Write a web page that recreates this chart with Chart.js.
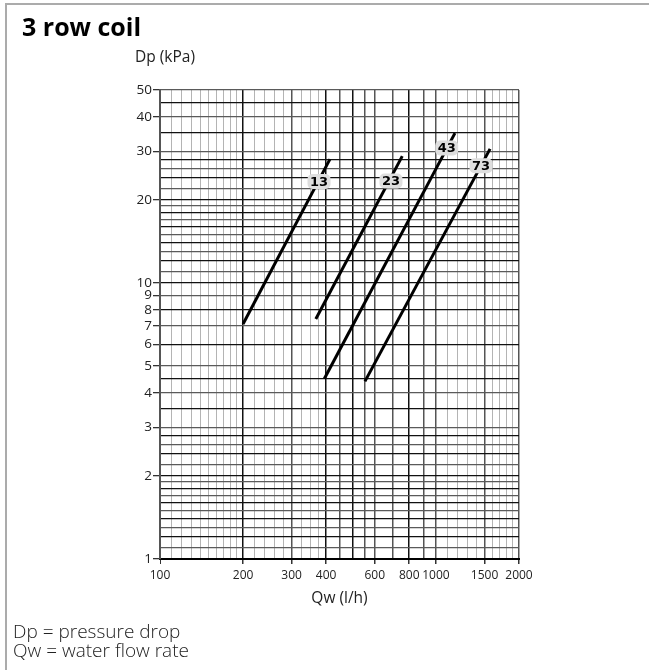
<!DOCTYPE html>
<html>
<head>
<meta charset="utf-8">
<script src="https://cdn.jsdelivr.net/npm/chart.js@4/dist/chart.umd.min.js"></script>
<style>
  body { margin: 0; background: #fff; }
  #wrap { position: relative; width: 649px; height: 670px; overflow: hidden; font-family: "Open Sans", sans-serif; }
  #wrap canvas { position: absolute; left: 0; top: 0; }
  .frameTop { position: absolute; left: 5px; top: 3px; width: 644px; height: 2px; background: #ababab; }
  .frameLeft { position: absolute; left: 5px; top: 3px; width: 2px; height: 667px; background: #ababab; }
  .title { position: absolute; left: 22px; top: 9px; font-size: 25px; font-weight: 700; color: #000; white-space: nowrap; }
  .ytitle { position: absolute; left: 135px; top: 45px; font-size: 15.5px; color: #222; white-space: nowrap; }
  .note { position: absolute; left: 13px; font-size: 19px; font-weight: 300; color: #222; white-space: nowrap; }
</style>
</head>
<body>
<div id="wrap">
  <canvas id="chart" width="649" height="670"></canvas>
  <div class="frameTop"></div>
  <div class="frameLeft"></div>
  <div class="title">3 row coil</div>
  <div class="ytitle">Dp (kPa)</div>
  <div class="note" style="top:618px">Dp = pressure drop</div>
  <div class="note" style="top:637px">Qw = water flow rate</div>
</div>
<script>
'use strict';

// curve names
var coilNames = ['13', '23', '43', '73'];

// water flow (l/h) and pressure drop (kPa) at the two ends of each curve
var qw13 = [200, 413],  dp13 = [7.1, 28.1];
var qw23 = [367, 755],  dp23 = [7.4, 28.8];
var qw43 = [394, 1172], dp43 = [4.5, 34.9];
var qw73 = [553, 1571], dp73 = [4.4, 30.6];

// where the curve names sit
var labelQw = [377, 687, 1094, 1457];
var labelDp = [23.3, 23.4, 30.8, 26.6];

// grid lines and tick labels
var qwGrid = [100, 110, 120, 130, 140, 150, 160, 170, 180, 190, 200, 220, 240, 260, 280,
              300, 325, 350, 375, 400, 450, 500, 550, 600, 700, 800, 900, 1000,
              1100, 1200, 1300, 1400, 1500, 1600, 1700, 1800, 1900, 2000];
var qwLabels = [100, 200, 300, 400, 600, 800, 1000, 1500, 2000];
var qwDark = [200, 400, 500, 800];
var qwMid = [300, 450, 550, 600, 700, 900, 1000, 1500, 2000];

var dpGrid = [1, 1.1, 1.2, 1.3, 1.4, 1.5, 1.6, 1.7, 1.8, 1.9, 2, 2.2, 2.4, 2.6, 2.8,
              3, 3.5, 4, 4.5, 5, 6, 7, 8, 9, 10, 11, 12, 13, 14, 15, 16, 17, 18, 19,
              20, 22, 24, 26, 28, 30, 35, 40, 45, 50];
var dpLabels = [1, 2, 3, 4, 5, 6, 7, 8, 9, 10, 20, 30, 40, 50];

function toPoints(xs, ys) {
    return xs.map(function (x, i) { return { x: x, y: ys[i] }; });
}

var curves = [toPoints(qw13, dp13), toPoints(qw23, dp23), toPoints(qw43, dp43), toPoints(qw73, dp73)];

var datasets = curves.map(function (pts, i) {
    return {
        label: coilNames[i],
        data: pts,
        borderColor: '#000',
        borderWidth: 3,
        pointRadius: 0,
        borderCapStyle: 'butt'
    };
});

// little grey badges with the curve names
var curveLabels = {
    id: 'curveLabels',
    afterDatasetsDraw: function (chart) {
        var ctx = chart.ctx;
        var xs = chart.scales.x, ys = chart.scales.y;
        ctx.save();
        ctx.font = 'bold 13px "DejaVu Sans"';
        ctx.textAlign = 'center';
        ctx.textBaseline = 'middle';
        coilNames.forEach(function (name, i) {
            var px = xs.getPixelForValue(labelQw[i]);
            var py = ys.getPixelForValue(labelDp[i]);
            var w = 23, h = 15;
            ctx.fillStyle = '#dedede';
            ctx.beginPath();
            ctx.roundRect(px - w / 2, py - h / 2, w, h, 5);
            ctx.fill();
            ctx.fillStyle = '#000';
            ctx.fillText(name, px, py + 1);
        });
        ctx.restore();
    }
};

new Chart(document.getElementById('chart'), {
    type: 'line',
    data: { datasets: datasets },
    plugins: [curveLabels],
    options: {
        responsive: false,
        animation: false,
        devicePixelRatio: 1,
        layout: { padding: { left: 120, top: 90, right: 130, bottom: 61 } },
        plugins: { legend: { display: false }, tooltip: { enabled: false } },
        scales: {
            x: {
                type: 'logarithmic',
                min: 100,
                max: 2000,
                afterBuildTicks: function (axis) {
                    axis.ticks = qwGrid.map(function (v) { return { value: v }; });
                },
                afterFit: function (axis) { axis.height = 50; },
                ticks: {
                    autoSkip: false,
                    maxRotation: 0,
                    padding: 4,
                    color: '#222',
                    font: { family: 'Open Sans', size: 12 },
                    callback: function (v) { return qwLabels.indexOf(v) >= 0 ? String(v) : ''; }
                },
                grid: {
                    color: function (c) {
                        var v = c.tick && c.tick.value;
                        if (qwDark.indexOf(v) >= 0) return '#111';
                        if (qwMid.indexOf(v) >= 0) return '#555';
                        return '#b4b4b4';
                    },
                    lineWidth: function (c) {
                        var v = c.tick && c.tick.value;
                        return (qwDark.indexOf(v) >= 0 || qwMid.indexOf(v) >= 0) ? 1.5 : 1;
                    },
                    tickLength: 5,
                    tickColor: function (c) {
                        var v = c.tick && c.tick.value;
                        return qwLabels.indexOf(v) >= 0 ? '#333' : 'rgba(0,0,0,0)';
                    }
                },
                border: { color: '#000', width: 2 },
                title: {
                    display: true,
                    text: 'Qw (l/h)',
                    color: '#222',
                    font: { family: 'Open Sans', size: 15.5 },
                    padding: { top: 4, bottom: 1 }
                }
            },
            y: {
                type: 'logarithmic',
                min: 1,
                max: 50,
                afterBuildTicks: function (axis) {
                    axis.ticks = dpGrid.map(function (v) { return { value: v }; });
                },
                afterFit: function (axis) { axis.width = 40; },
                ticks: {
                    autoSkip: false,
                    padding: 1,
                    color: '#222',
                    font: { family: 'Open Sans', size: 13.5 },
                    callback: function (v) { return dpLabels.indexOf(v) >= 0 ? String(v) : ''; }
                },
                grid: {
                    color: function (c) {
                        return c.index % 2 === 0 ? '#111' : '#5a5a5a';
                    },
                    lineWidth: 1.3,
                    tickLength: 7,
                    tickColor: function (c) {
                        var v = c.tick && c.tick.value;
                        return dpLabels.indexOf(v) >= 0 ? '#333' : 'rgba(0,0,0,0)';
                    }
                },
                border: { color: '#555', width: 2 }
            }
        }
    }
});
</script>
</body>
</html>
